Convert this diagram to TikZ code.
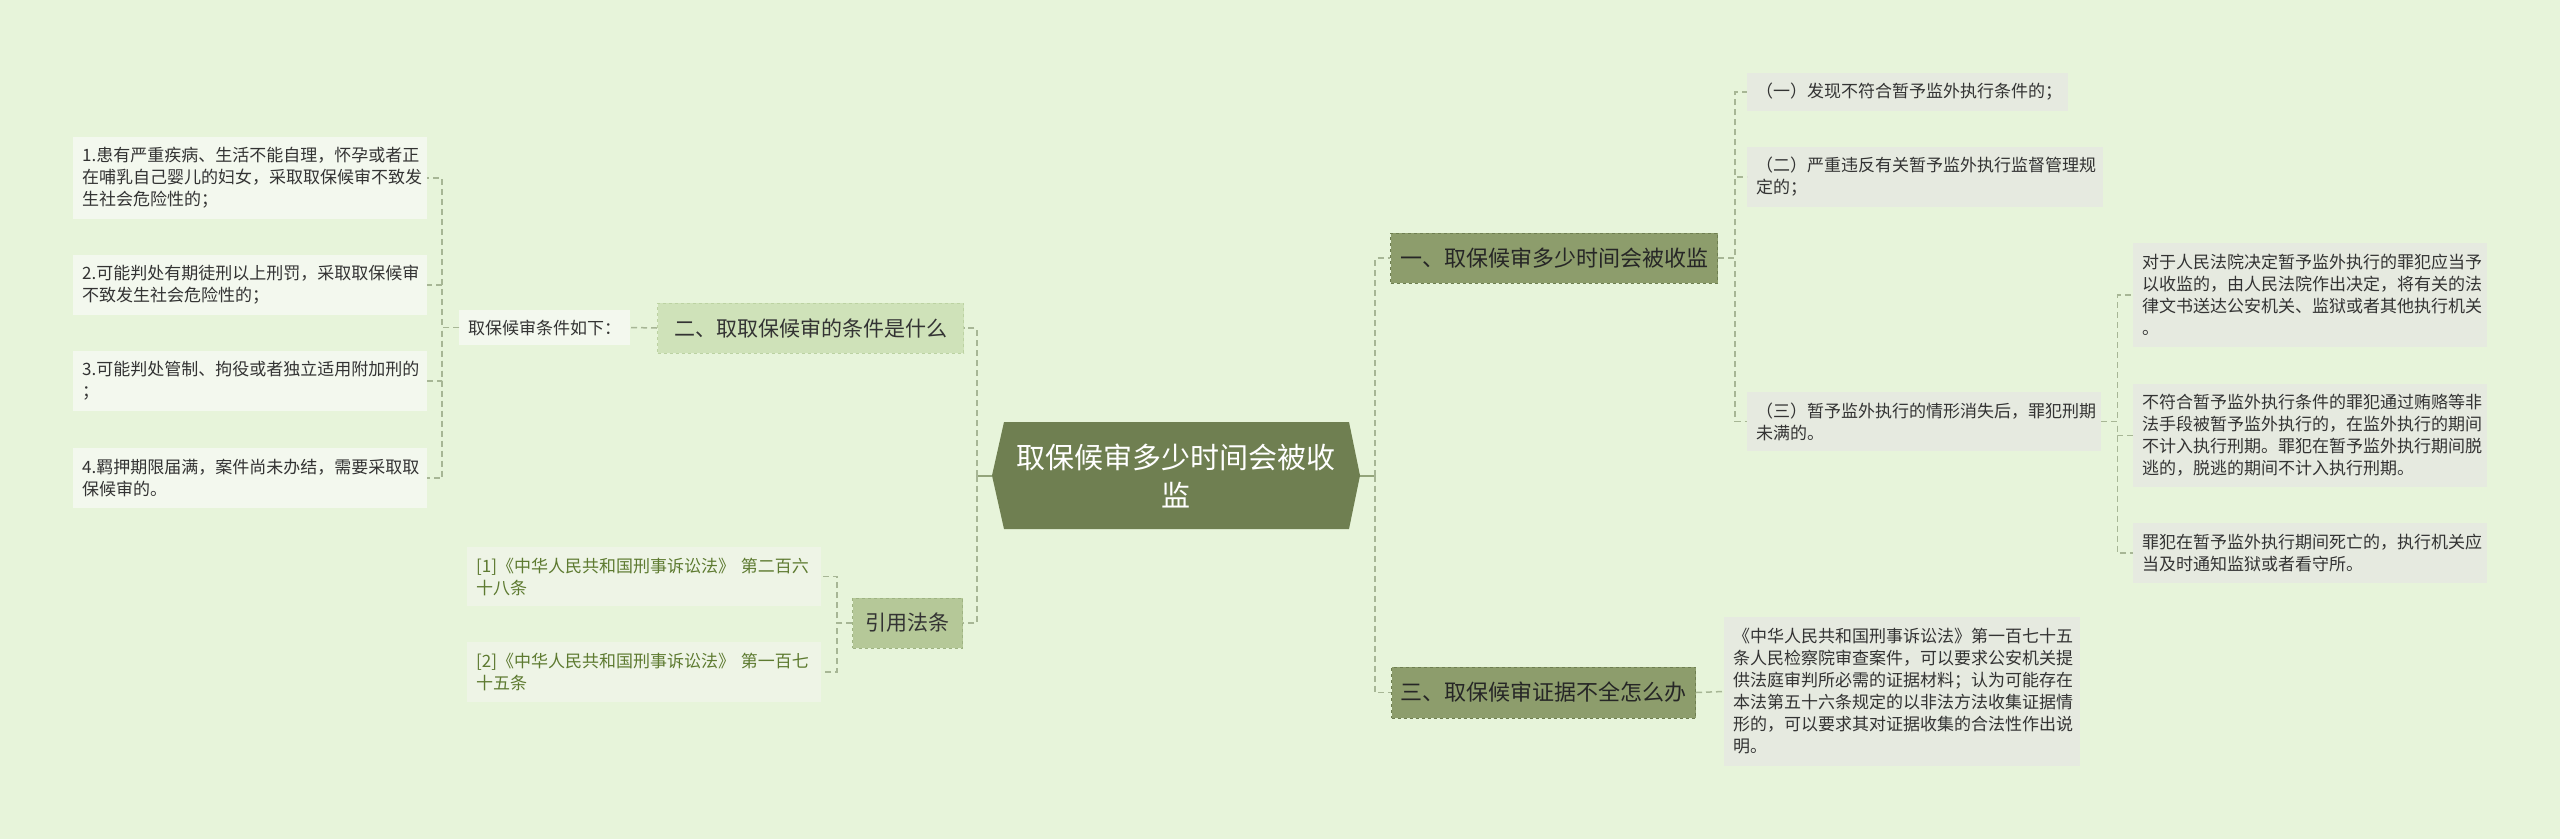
\documentclass[tikz,border=0pt]{standalone}
\usepackage{fontspec}
\setmainfont{Noto Sans CJK SC}
\usetikzlibrary{calc}
\definecolor{bg}{HTML}{E7F4DA}
\definecolor{central}{HTML}{6F7F51}
\definecolor{dark}{HTML}{8D9D6C}
\definecolor{darkline}{HTML}{6E7E50}
\definecolor{light}{HTML}{CFE2B9}
\definecolor{lightline}{HTML}{BCD2A2}
\definecolor{mid}{HTML}{B5C898}
\definecolor{midline}{HTML}{9EB382}
\definecolor{leafl}{HTML}{F3F8EE}
\definecolor{leafc}{HTML}{EEF4E6}
\definecolor{leafr}{HTML}{E6EAE0}
\definecolor{conncol}{HTML}{A7B695}
\definecolor{solidcol}{HTML}{93A47A}
\definecolor{txt}{HTML}{333333}
\definecolor{citetxt}{HTML}{5D7A30}
\begin{document}
\begin{tikzpicture}[x=1pt,y=-1pt,
  box/.style={anchor=west, inner xsep=9pt, inner ysep=0pt, align=left, text=txt},
  small/.style={font=\fontsize{17}{22}\selectfont},
  leafL/.style={box, small, fill=leafl, text width=#1},
  leafC/.style={box, small, fill=leafc, text=citetxt, text width=#1},
  leafR/.style={box, small, fill=leafr, text width=#1},
  branchR/.style={anchor=west, inner sep=0pt, align=center, fill=dark, draw=darkline, dashed, line width=1pt, text=black!85, font=\fontsize{22}{27}\selectfont},
  branchL/.style={anchor=west, inner sep=0pt, align=center, fill=light, draw=lightline, dashed, line width=1pt, text=txt, font=\fontsize{21}{26}\selectfont},
  branchM/.style={branchL, fill=mid, draw=midline},
  conn/.style={draw=conncol, line width=1.5pt, dash pattern=on 6pt off 4pt},
  solidconn/.style={draw=solidcol, line width=2pt}
]
\useasboundingbox (0,0) rectangle (2560,839);
\fill[bg] (0,0) rectangle (2560,839);

% central topic
\coordinate (cc) at (1176,475.5);
\fill[central] ($(cc)+(-184,0)$) -- ($(cc)+(-172,-53.5)$) -- ($(cc)+(173,-53.5)$) -- ($(cc)+(184,0)$) -- ($(cc)+(173,53.5)$) -- ($(cc)+(-172,53.5)$) -- cycle;
\node[minimum width=368pt, minimum height=107pt, inner sep=0pt, align=center, text=white, font=\fontsize{29}{38}\selectfont] (c) at (cc) {取保候审多少时间会被收\\监};

% right branches
\node[branchR, minimum width=327pt, minimum height=50pt] (b1) at (1390,258) {一、取保候审多少时间会被收监};
\node[branchR, minimum width=304pt, minimum height=51pt] (b3) at (1391,692.5) {三、取保候审证据不全怎么办};

% left branches
\node[branchL, minimum width=306pt, minimum height=50pt] (b2) at (657,328) {二、取取保候审的条件是什么};
\node[branchM, minimum width=110pt, minimum height=50pt] (ref) at (852,623) {引用法条};

\node[box, small, fill=leafl, align=center, minimum width=166pt, minimum height=35pt] (cond) at (459,327.5) {取保候审条件如下：};

% left leaves
\node[leafL=336pt, minimum height=82pt] (L1) at (73,178) {1.患有严重疾病、生活不能自理，怀孕或者正\\在哺乳自己婴儿的妇女，采取取保候审不致发\\生社会危险性的；};
\node[leafL=336pt, minimum height=60pt] (L2) at (73,285) {2.可能判处有期徒刑以上刑罚，采取取保候审\\不致发生社会危险性的；};
\node[leafL=336pt, minimum height=60pt] (L3) at (73,381) {3.可能判处管制、拘役或者独立适用附加刑的\\；};
\node[leafL=336pt, minimum height=60pt] (L4) at (73,478) {4.羁押期限届满，案件尚未办结，需要采取取\\保候审的。};

% citations
\node[leafC=336pt, minimum height=59pt] (R1) at (467,576.5) {[1]《中华人民共和国刑事诉讼法》 第二百六\\十八条};
\node[leafC=336pt, minimum height=60pt] (R2) at (467,672) {[2]《中华人民共和国刑事诉讼法》 第一百七\\十五条};

% right leaves of branch 1
\node[leafR=303pt, minimum height=38pt] (Q1) at (1747,92) {（一）发现不符合暂予监外执行条件的；};
\node[leafR=338pt, minimum height=60pt] (Q2) at (1747,177) {（二）严重违反有关暂予监外执行监督管理规\\定的；};
\node[leafR=336pt, minimum height=59pt] (Q3) at (1747,421.5) {（三）暂予监外执行的情形消失后，罪犯刑期\\未满的。};

\node[leafR=336pt, minimum height=104pt] (C1) at (2133,295) {对于人民法院决定暂予监外执行的罪犯应当予\\以收监的，由人民法院作出决定，将有关的法\\律文书送达公安机关、监狱或者其他执行机关\\。};
\node[leafR=336pt, minimum height=103pt] (C2) at (2133,435.5) {不符合暂予监外执行条件的罪犯通过贿赂等非\\法手段被暂予监外执行的，在监外执行的期间\\不计入执行刑期。罪犯在暂予监外执行期间脱\\逃的，脱逃的期间不计入执行刑期。};
\node[leafR=336pt, minimum height=60pt] (C3) at (2133,553) {罪犯在暂予监外执行期间死亡的，执行机关应\\当及时通知监狱或者看守所。};

% branch 3 leaf
\node[leafR=338pt, minimum height=149pt] (D) at (1724,691.5) {《中华人民共和国刑事诉讼法》第一百七十五\\条人民检察院审查案件，可以要求公安机关提\\供法庭审判所必需的证据材料；认为可能存在\\本法第五十六条规定的以非法方法收集证据情\\形的，可以要求其对证据收集的合法性作出说\\明。};

% connectors
\draw[solidconn] (c.east) -- ++(15,0) coordinate (rs);
\draw[solidconn] (c.west) -- ++(-15,0) coordinate (ls);
\draw[conn] (rs) |- (b1.west);
\draw[conn] (rs) |- (b3.west);
\draw[conn] (ls) |- (b2.east);
\draw[conn] (ls) |- (ref.east);

\draw[conn] (b2.west) -- (cond.east);
\foreach \n in {L1,L2,L3,L4} \draw[conn] (cond.west) -- ++(-17,0) |- (\n.east);
\foreach \n in {R1,R2} \draw[conn] (ref.west) -- ++(-15,0) |- (\n.east);
\foreach \n in {Q1,Q2,Q3} \draw[conn] (b1.east) -- ++(17,0) |- (\n.west);
\foreach \n in {C1,C2,C3} \draw[conn] (Q3.east) -- ++(16,0) |- (\n.west);
\draw[conn] (b3.east) -- (D.west);
\end{tikzpicture}
\end{document}
